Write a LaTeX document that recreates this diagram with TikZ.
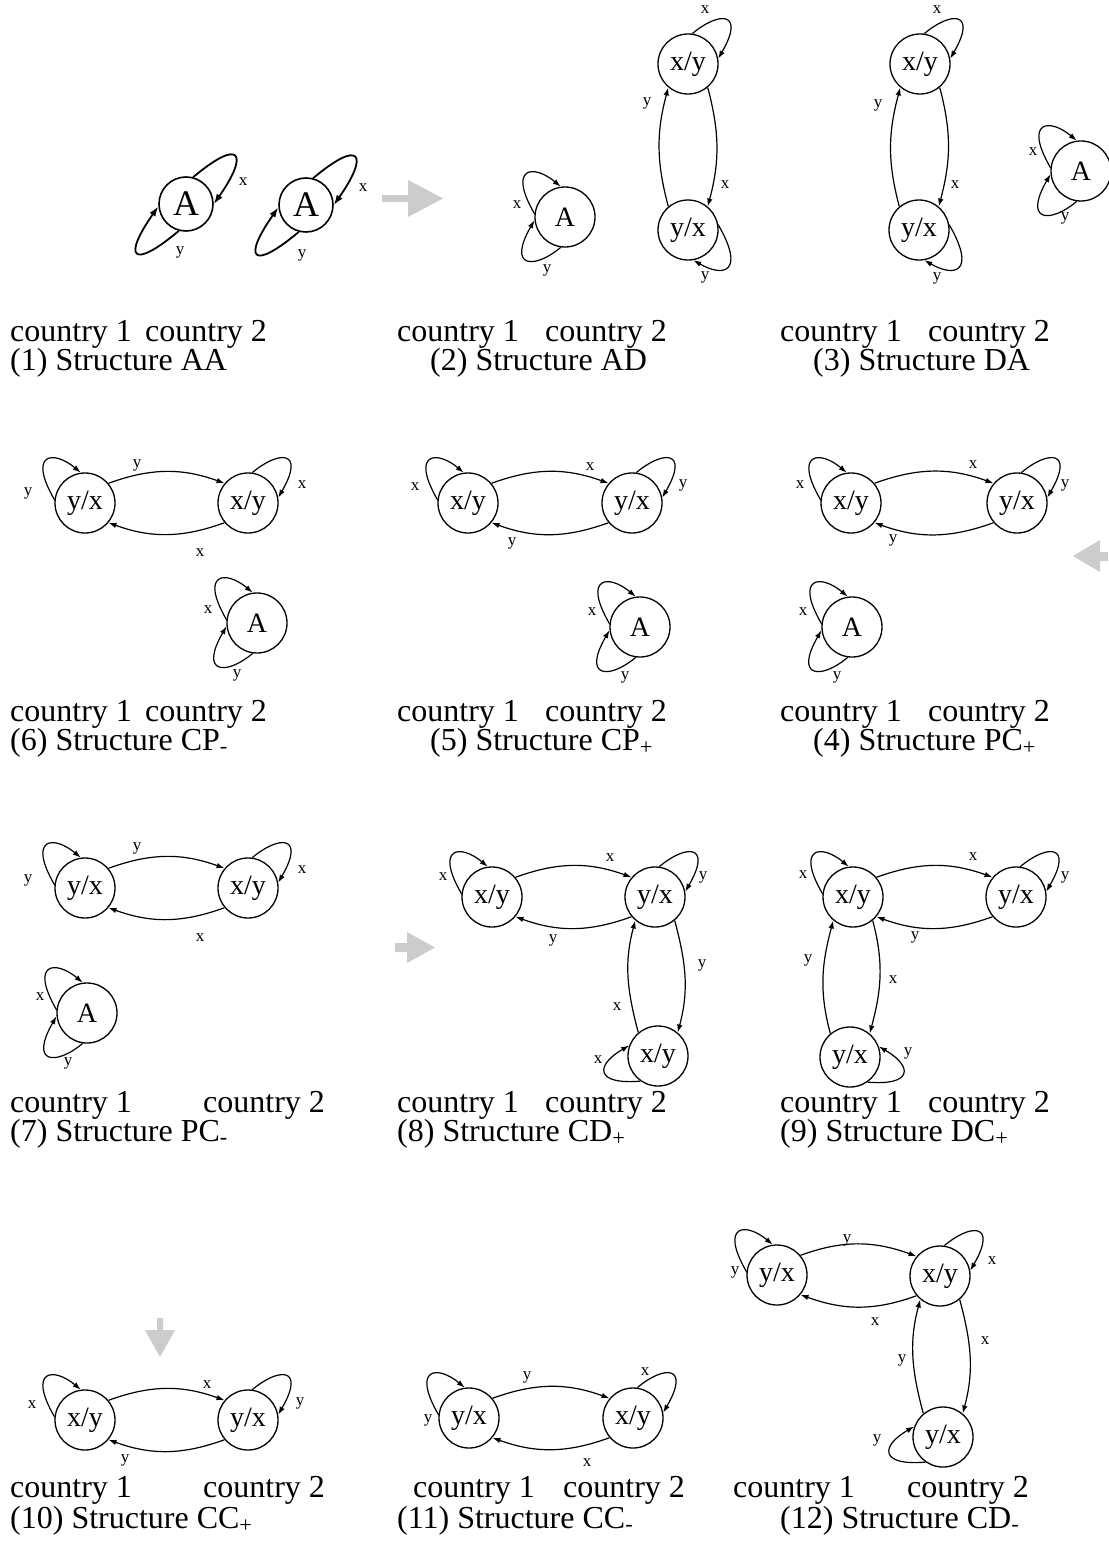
\documentclass[tikz,border=0pt]{standalone}
\usepackage{fontspec}
\setmainfont{Liberation Serif}
\usetikzlibrary{arrows.meta}

% arcs between two states, and self loops
\newcommand{\hpair}[2]{%
  \draw[edge] (#1.40) to[out=20,in=160] (#2.140);
  \draw[edge] (#2.-140) to[out=-160,in=-20] (#1.-40);}
\newcommand{\vpair}[2]{%
  \draw[edge] (#1.-50) to[out=-75,in=75] (#2.50);
  \draw[edge] (#2.130) to[out=105,in=-105] (#1.-130);}
\newcommand{\loopnw}[1]{\draw[edge] (#1.174) to[out=120,in=140,out distance=55pt,in distance=35pt] (#1.98);}
\newcommand{\loopne}[1]{\draw[edge] (#1.82) to[out=40,in=60,out distance=35pt,in distance=55pt] (#1.10);}
\newcommand{\loopsw}[1]{\draw[edge] (#1.-98) to[out=-140,in=-120,out distance=35pt,in distance=55pt] (#1.186);}
\newcommand{\loopse}[1]{\draw[edge] (#1.10) to[out=-60,in=-30,out distance=55pt,in distance=35pt] (#1.-80);}
\newcommand{\loopw}[1]{\draw[edge] (#1.-125) to[out=185,in=210,out distance=45pt,in distance=40pt] (#1.160);}
\newcommand{\loope}[1]{\draw[edge] (#1.-55) to[out=-5,in=-30,out distance=45pt,in distance=40pt] (#1.20);}

\begin{document}
\begin{tikzpicture}[x=1pt,y=-1pt,
    state/.style={circle,draw,line width=1.3pt,minimum size=60pt,inner sep=0pt,font=\fontsize{28}{28}\selectfont},
    bigstate/.style={state,minimum size=54pt,line width=1.6pt,font=\fontsize{36}{36}\selectfont},
    edge/.style={-{Latex[length=8pt,width=5.5pt]},line width=1.2pt},
    bigedge/.style={-{Latex[length=10pt,width=7pt]},line width=1.8pt},
    lab/.style={font=\fontsize{17}{17}\selectfont,inner sep=0pt},
    captext/.style={font=\fontsize{32}{38}\selectfont,inner sep=0pt,anchor=base west},
    block/.style={fill=gray!40,draw=none}]
  \useasboundingbox (0,0) rectangle (1108,1544);

  % (1) AA
  \node[bigstate] (aa1) at (186,204) {A};
  \node[bigstate] (aa2) at (306,205) {A};
  \draw[bigedge] (aa1.75) to[out=40,in=55,distance=62pt] (aa1.0);
  \draw[bigedge] (aa1.-105) to[out=-140,in=-125,distance=62pt] (aa1.185);
  \draw[bigedge] (aa2.75) to[out=40,in=55,distance=62pt] (aa2.0);
  \draw[bigedge] (aa2.-105) to[out=-140,in=-125,distance=62pt] (aa2.185);
  \node[lab] (aa1x) at (243,182) {x};
  \node[lab] (aa1y) at (180,252) {y};
  \node[lab] (aa2x) at (363,188) {x};
  \node[lab] (aa2y) at (302,255) {y};
  \fill[block] (382,195) -- (408,195) -- (408,180) -- (443,198.5) -- (408,217) -- (408,202) -- (382,202) -- cycle;

  % (2) AD
  \node[state] (ad1) at (565,217) {A};
  \node[state] (ad2) at (688,64) {x/y};
  \node[state] (ad3) at (688,230) {y/x};
  \loopnw{ad1} \loopsw{ad1} \loopne{ad2} \loopse{ad3}
  \vpair{ad2}{ad3}
  \node[lab] (ad1x) at (517,205) {x};
  \node[lab] (ad1y) at (547,270) {y};
  \node[lab] (ad2x) at (705,10) {x};
  \node[lab] (ad3y) at (705,277) {y};
  \node[lab] (ad23) at (725,185) {x};
  \node[lab] (ad32) at (647,103) {y};

  % (3) DA
  \node[state] (da1) at (920,64) {x/y};
  \node[state] (da2) at (919,230) {y/x};
  \node[state] (da3) at (1081,171) {A};
  \loopne{da1} \loopse{da2} \loopnw{da3} \loopsw{da3}
  \vpair{da1}{da2}
  \node[lab] (da1x) at (937,10) {x};
  \node[lab] (da2y) at (937,278) {y};
  \node[lab] (da12) at (955,185) {x};
  \node[lab] (da21) at (878,105) {y};
  \node[lab] (da3x) at (1033,152) {x};
  \node[lab] (da3y) at (1065,218) {y};

  % (6) CP-
  \node[state] (cpm1) at (85,503) {y/x};
  \node[state] (cpm2) at (248,503) {x/y};
  \node[state] (cpm3) at (257,623) {A};
  \hpair{cpm1}{cpm2}
  \loopnw{cpm1} \loopne{cpm2} \loopnw{cpm3} \loopsw{cpm3}
  \node[lab] (cpm1y) at (28,493) {y};
  \node[lab] (cpm2x) at (302,485) {x};
  \node[lab] (cpm12) at (137,465) {y};
  \node[lab] (cpm21) at (200,553) {x};
  \node[lab] (cpm3x) at (208,610) {x};
  \node[lab] (cpm3y) at (237,675) {y};

  % (5) CP+
  \node[state] (cpp1) at (468,503) {x/y};
  \node[state] (cpp2) at (632,503) {y/x};
  \node[state] (cpp3) at (640,627) {A};
  \hpair{cpp1}{cpp2}
  \loopnw{cpp1} \loopne{cpp2} \loopnw{cpp3} \loopsw{cpp3}
  \node[lab] (cpp1x) at (415,487) {x};
  \node[lab] (cpp2y) at (683,485) {y};
  \node[lab] (cpp12) at (590,467) {x};
  \node[lab] (cpp21) at (512,543) {y};
  \node[lab] (cpp3x) at (592,612) {x};
  \node[lab] (cpp3y) at (625,677) {y};

  % (4) PC+
  \node[state] (pcp1) at (851,503) {x/y};
  \node[state] (pcp2) at (1017,503) {y/x};
  \node[state] (pcp3) at (852,627) {A};
  \hpair{pcp1}{pcp2}
  \loopnw{pcp1} \loopne{pcp2} \loopnw{pcp3} \loopsw{pcp3}
  \node[lab] (pcp1x) at (800,485) {x};
  \node[lab] (pcp2y) at (1065,485) {y};
  \node[lab] (pcp12) at (973,465) {x};
  \node[lab] (pcp21) at (893,540) {y};
  \node[lab] (pcp3x) at (803,612) {x};
  \node[lab] (pcp3y) at (837,677) {y};
  \fill[block] (1108,552) -- (1100,552) -- (1100,540) -- (1073,556) -- (1100,572) -- (1100,561) -- (1108,561) -- cycle;

  % (7) PC-
  \node[state] (pcm1) at (85,888) {y/x};
  \node[state] (pcm2) at (248,888) {x/y};
  \node[state] (pcm3) at (87,1013) {A};
  \hpair{pcm1}{pcm2}
  \loopnw{pcm1} \loopne{pcm2} \loopnw{pcm3} \loopsw{pcm3}
  \node[lab] (pcm1y) at (28,880) {y};
  \node[lab] (pcm2x) at (302,870) {x};
  \node[lab] (pcm12) at (137,848) {y};
  \node[lab] (pcm21) at (200,938) {x};
  \node[lab] (pcm3x) at (40,997) {x};
  \node[lab] (pcm3y) at (68,1063) {y};

  % (8) CD+
  \node[state] (cdp1) at (492,897) {x/y};
  \node[state] (cdp2) at (655,897) {y/x};
  \node[state] (cdp3) at (658,1056) {x/y};
  \hpair{cdp1}{cdp2}
  \vpair{cdp2}{cdp3}
  \loopnw{cdp1} \loopne{cdp2} \loopw{cdp3}
  \node[lab] (cdp1x) at (443,877) {x};
  \node[lab] (cdp2y) at (703,877) {y};
  \node[lab] (cdp12) at (610,858) {x};
  \node[lab] (cdp21) at (553,940) {y};
  \node[lab] (cdp23) at (702,965) {y};
  \node[lab] (cdp32) at (617,1007) {x};
  \node[lab] (cdp3x) at (598,1060) {x};
  \fill[block] (395,943) -- (407,943) -- (407,932) -- (435,947.5) -- (407,963) -- (407,952) -- (395,952) -- cycle;

  % (9) DC+
  \node[state] (dcp1) at (853,897) {x/y};
  \node[state] (dcp2) at (1016,897) {y/x};
  \node[state] (dcp3) at (850,1057) {y/x};
  \hpair{dcp1}{dcp2}
  \vpair{dcp1}{dcp3}
  \loopnw{dcp1} \loopne{dcp2} \loope{dcp3}
  \node[lab] (dcp1x) at (803,875) {x};
  \node[lab] (dcp2y) at (1065,877) {y};
  \node[lab] (dcp12) at (973,857) {x};
  \node[lab] (dcp21) at (915,937) {y};
  \node[lab] (dcp31) at (808,960) {y};
  \node[lab] (dcp13) at (893,980) {x};
  \node[lab] (dcp3y) at (908,1053) {y};

  % (10) CC+
  \node[state] (ccp1) at (85,1420) {x/y};
  \node[state] (ccp2) at (248,1420) {y/x};
  \hpair{ccp1}{ccp2}
  \loopnw{ccp1} \loopne{ccp2}
  \node[lab] (ccp1x) at (32,1405) {x};
  \node[lab] (ccp2y) at (300,1403) {y};
  \node[lab] (ccp12) at (207,1385) {x};
  \node[lab] (ccp21) at (125,1460) {y};
  \fill[block] (157,1318) -- (163,1318) -- (163,1330) -- (175,1330) -- (160,1357) -- (145,1330) -- (157,1330) -- cycle;

  % (11) CC-
  \node[state] (ccm1) at (469,1418) {y/x};
  \node[state] (ccm2) at (633,1418) {x/y};
  \hpair{ccm1}{ccm2}
  \loopnw{ccm1} \loopne{ccm2}
  \node[lab] (ccm1y) at (428,1420) {y};
  \node[lab] (ccm2x) at (645,1372) {x};
  \node[lab] (ccm12) at (527,1377) {y};
  \node[lab] (ccm21) at (587,1463) {x};

  % (12) CD-
  \node[state] (cdm1) at (777,1275) {y/x};
  \node[state] (cdm2) at (940,1276) {x/y};
  \node[state] (cdm3) at (943,1437) {y/x};
  \hpair{cdm1}{cdm2}
  \vpair{cdm2}{cdm3}
  \loopnw{cdm1} \loopne{cdm2} \loopw{cdm3}
  \node[lab] (cdm1y) at (735,1272) {y};
  \node[lab] (cdm2x) at (992,1261) {x};
  \node[lab] (cdm12) at (847,1240) {y};
  \node[lab] (cdm21) at (875,1322) {x};
  \node[lab] (cdm32) at (902,1360) {y};
  \node[lab] (cdm23) at (985,1341) {x};
  \node[lab] (cdm3y) at (877,1440) {y};

  % captions
  \node[captext] (t1a) at (10,341) {country 1};
  \node[captext] (t1b) at (145,341) {country 2};
  \node[captext] (t1) at (10,370) {(1) Structure AA};
  \node[captext] (t2a) at (397,341) {country 1};
  \node[captext] (t2b) at (545,341) {country 2};
  \node[captext] (t2) at (430,370) {(2) Structure AD};
  \node[captext] (t3a) at (780,341) {country 1};
  \node[captext] (t3b) at (928,341) {country 2};
  \node[captext] (t3) at (813,370) {(3) Structure DA};
  \node[captext] (t6a) at (10,721) {country 1};
  \node[captext] (t6b) at (145,721) {country 2};
  \node[captext] (t6) at (10,750) {(6) Structure CP\textsubscript{-}};
  \node[captext] (t5a) at (397,721) {country 1};
  \node[captext] (t5b) at (545,721) {country 2};
  \node[captext] (t5) at (430,750) {(5) Structure CP\textsubscript{+}};
  \node[captext] (t4a) at (780,721) {country 1};
  \node[captext] (t4b) at (928,721) {country 2};
  \node[captext] (t4) at (813,750) {(4) Structure PC\textsubscript{+}};
  \node[captext] (t7a) at (10,1112) {country 1};
  \node[captext] (t7b) at (203,1112) {country 2};
  \node[captext] (t7) at (10,1141) {(7) Structure PC\textsubscript{-}};
  \node[captext] (t8a) at (397,1112) {country 1};
  \node[captext] (t8b) at (545,1112) {country 2};
  \node[captext] (t8) at (397,1141) {(8) Structure CD\textsubscript{+}};
  \node[captext] (t9a) at (780,1112) {country 1};
  \node[captext] (t9b) at (928,1112) {country 2};
  \node[captext] (t9) at (780,1141) {(9) Structure DC\textsubscript{+}};
  \node[captext] (t10a) at (10,1497) {country 1};
  \node[captext] (t10b) at (203,1497) {country 2};
  \node[captext] (t10) at (10,1528) {(10) Structure CC\textsubscript{+}};
  \node[captext] (t11a) at (413,1497) {country 1};
  \node[captext] (t11b) at (563,1497) {country 2};
  \node[captext] (t11) at (397,1528) {(11) Structure CC\textsubscript{-}};
  \node[captext] (t12a) at (733,1497) {country 1};
  \node[captext] (t12b) at (907,1497) {country 2};
  \node[captext] (t12) at (780,1528) {(12) Structure CD\textsubscript{-}};
\end{tikzpicture}
\end{document}
